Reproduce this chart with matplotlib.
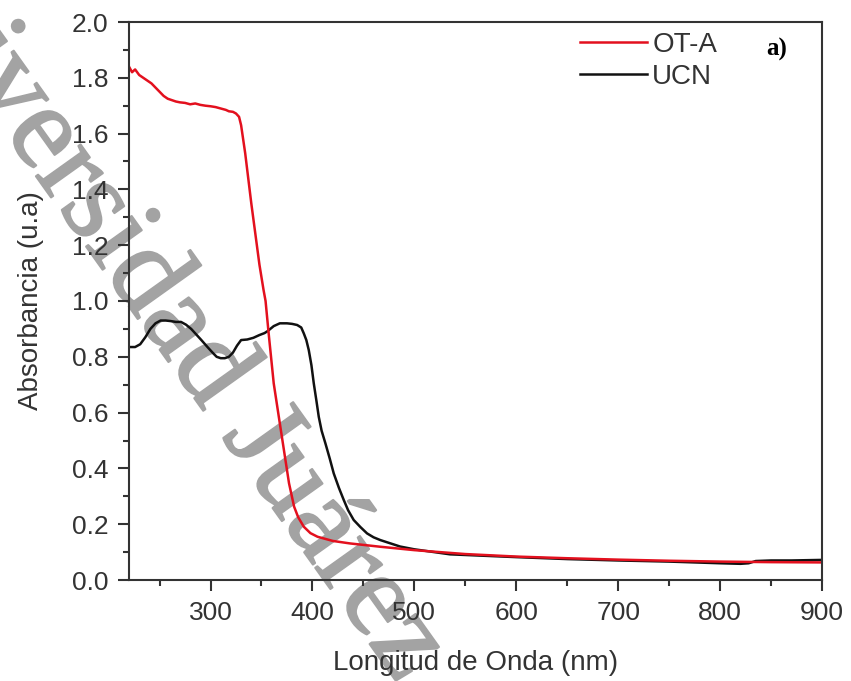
import matplotlib
matplotlib.use("Agg")
import matplotlib.pyplot as plt
import matplotlib.patheffects as pe
from matplotlib.ticker import MultipleLocator, AutoMinorLocator, FormatStrFormatter

# ---- data ----
ota_wl = [220, 223, 226, 230, 234, 238, 242, 246, 250, 254, 258, 262, 266, 270, 275,
          280, 285, 290, 295, 300, 305, 310, 315, 318, 322, 325, 328, 330, 332, 334,
          336, 338, 340, 344, 348, 352, 354, 357, 362, 367, 372, 377, 382, 386, 391.5,
          398, 405, 420, 437, 467, 500, 550, 600, 650, 700, 750, 800, 850, 900]
ota_abs = [1.84, 1.82, 1.83, 1.81, 1.80, 1.79, 1.78, 1.765, 1.75, 1.735, 1.725, 1.72,
           1.715, 1.712, 1.71, 1.705, 1.708, 1.703, 1.70, 1.698, 1.695, 1.69, 1.685,
           1.68, 1.678, 1.672, 1.66, 1.63, 1.58, 1.53, 1.47, 1.41, 1.35, 1.24, 1.13,
           1.04, 1.00, 0.885, 0.705, 0.585, 0.466, 0.347, 0.263, 0.225, 0.191,
           0.168, 0.155, 0.14, 0.131, 0.119, 0.107, 0.093, 0.084, 0.078, 0.073,
           0.069, 0.066, 0.064, 0.063]

ucn_wl = [220, 226, 231, 236, 241, 246, 251, 256, 261, 266, 271, 276, 281, 286, 291,
          297, 302, 306, 310, 314, 318, 322, 326, 330, 336, 342, 348, 353, 356, 362,
          368, 375, 380, 385, 389, 391.5, 394, 396.4, 399, 401.3, 404, 406.2, 409,
          412.7, 417, 420.9, 426, 430.7, 435, 440.5, 447, 453.6, 460, 466.7, 486, 500,
          535, 600, 650, 700, 750, 800, 820, 828, 835, 850, 870, 900]
ucn_abs = [0.835, 0.835, 0.845, 0.87, 0.90, 0.92, 0.93, 0.93, 0.928, 0.925, 0.925,
           0.915, 0.90, 0.88, 0.86, 0.835, 0.815, 0.80, 0.795, 0.795, 0.80, 0.815,
           0.84, 0.86, 0.862, 0.868, 0.878, 0.885, 0.892, 0.91, 0.92, 0.92, 0.918,
           0.914, 0.905, 0.884, 0.86, 0.824, 0.77, 0.705, 0.64, 0.585, 0.535, 0.49,
           0.435, 0.382, 0.33, 0.287, 0.25, 0.215, 0.19, 0.167, 0.153, 0.143, 0.12,
           0.11, 0.092, 0.082, 0.075, 0.07, 0.066, 0.06, 0.058, 0.06, 0.068, 0.07,
           0.07, 0.072]

series_labels = ["OT-A", "UCN"]
series_colors = ["#e3101e", "#111111"]
x_label = "Longitud de Onda (nm)"
y_label = "Absorbancia (u.a)"
panel_tag = "a)"
watermark = "Universidad Juárez"

plt.rcParams['font.family'] = ['Liberation Sans', 'DejaVu Sans']

fig = plt.figure(figsize=(8.51, 6.81), dpi=100)
ax = fig.add_axes([129/851, 1-580/681, (822-129)/851, (580-22)/681])
ax.patch.set_alpha(0)

# watermark behind everything
wm_color = '#a3a3a3'
fig.text(-0.1586, 1.093, watermark, rotation=-54.5, rotation_mode='anchor',
         ha='left', va='baseline', fontsize=86, color=wm_color, zorder=-1,
         family='Liberation Serif',
         path_effects=[pe.Stroke(linewidth=1.5, foreground=wm_color), pe.Normal()])

l_ucn, = ax.plot(ucn_wl, ucn_abs, color=series_colors[1], lw=1.8, label=series_labels[1])
l_ota, = ax.plot(ota_wl, ota_abs, color=series_colors[0], lw=1.8, label=series_labels[0])

ax.set_xlim(220, 900)
ax.set_ylim(0, 2.0)
ax.xaxis.set_major_locator(MultipleLocator(100))
ax.xaxis.set_minor_locator(AutoMinorLocator(2))
ax.yaxis.set_major_locator(MultipleLocator(0.2))
ax.yaxis.set_minor_locator(AutoMinorLocator(2))
ax.yaxis.set_major_formatter(FormatStrFormatter('%.1f'))

for s in ax.spines.values():
    s.set_linewidth(1.5)
    s.set_color('#333333')
ax.tick_params(which='major', direction='out', length=8, width=1.5, color='#333333',
               labelsize=19, labelcolor='#333333', pad=7)
ax.tick_params(which='minor', direction='out', length=4, width=1.5, color='#333333')

ax.set_xlabel(x_label, fontsize=20, color='#333333', labelpad=18)
ax.set_ylabel(y_label, fontsize=20, color='#333333', labelpad=20)

leg = ax.legend(handles=[l_ota, l_ucn], loc='upper left',
                bbox_to_anchor=((580-129)/(822-129), (580-32)/558),
                frameon=False, fontsize=20, handlelength=2.4, handletextpad=0.2,
                labelspacing=0.22, borderaxespad=0, borderpad=0)
for t in leg.get_texts():
    t.set_color('#333333')

ax.text((766-129)/(822-129), (580-49)/558, panel_tag, transform=ax.transAxes,
        fontsize=18, fontweight='bold', family='Liberation Serif', va='center', ha='left')

fig.savefig("out.png", dpi=100)
